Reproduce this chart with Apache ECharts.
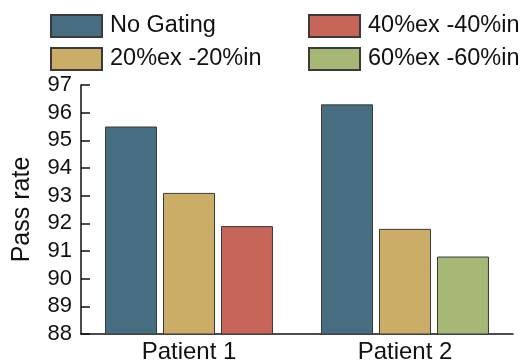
<!DOCTYPE html>
<html>
<head>
<meta charset="utf-8">
<script src="https://cdn.jsdelivr.net/npm/echarts@6/dist/echarts.min.js"></script>
<style>
html,body{margin:0;padding:0;background:#fff;}
#c{width:532px;height:361px;}
</style>
</head>
<body>
<div id="c"></div>
<script>
const categories = ['Patient 1', 'Patient 2'];
const seriesNames = ['No Gating', '20%ex -20%in', '40%ex -40%in', '60%ex -60%in'];
const noGating = [95.5, 96.3];
const gating20 = [93.1, 91.8];
const gating40 = [91.9, '-'];
const gating60 = ['-', 90.8];
const yTicks = [88, 89, 90, 91, 92, 93, 94, 95, 96, 97];

const colors = ['#466d80', '#cbad68', '#c66558', '#a7b775'];
const font = 'Liberation Sans, Arial, sans-serif';
const chart = echarts.init(document.getElementById('c'), null, {renderer: 'canvas'});

const itemStyle = (c) => ({color: c, borderColor: '#3a3a3a', borderWidth: 1});
const legendText = {fontSize: 23.5, fontFamily: font, color: '#111', padding: [0, 0, 0, 3]};

chart.setOption({
  animation: false,
  legend: [
    {data: [seriesNames[0], seriesNames[1]], orient: 'vertical', left: 50, top: 14,
     itemWidth: 51, itemHeight: 22, itemGap: 9, icon: 'rect', textStyle: legendText, padding: 0},
    {data: [seriesNames[2], seriesNames[3]], orient: 'vertical', left: 308, top: 14,
     itemWidth: 51, itemHeight: 22, itemGap: 9, icon: 'rect', textStyle: legendText, padding: 0}
  ],
  grid: {left: 81, right: 19, top: 85, bottom: 27, containLabel: false, outerBoundsMode: 'none'},
  xAxis: {
    type: 'category', data: categories,
    axisLine: {lineStyle: {color: '#111', width: 1.5}},
    axisTick: {inside: true, length: 6, lineStyle: {color: '#111', width: 1.5}},
    axisLabel: {fontSize: 24, fontFamily: font, color: '#111', margin: 6}
  },
  yAxis: {
    type: 'value', min: yTicks[0], max: yTicks[yTicks.length - 1], interval: 1,
    name: 'Pass rate', nameLocation: 'middle', nameGap: 46,
    nameTextStyle: {fontSize: 25, fontFamily: font, color: '#111'},
    splitLine: {show: false},
    axisLine: {show: true, lineStyle: {color: '#111', width: 1.5}},
    axisTick: {show: true, inside: true, length: 9, lineStyle: {color: '#111', width: 1.5}},
    axisLabel: {fontSize: 22, fontFamily: font, color: '#111', margin: 9}
  },
  series: [
    {name: seriesNames[0], type: 'bar', data: noGating, barWidth: 52, barGap: '11.5%', itemStyle: itemStyle(colors[0])},
    {name: seriesNames[1], type: 'bar', data: gating20, barWidth: 52, barGap: '11.5%', itemStyle: itemStyle(colors[1])},
    {name: seriesNames[2], type: 'bar', data: gating40, stack: 'g', barWidth: 52, barGap: '11.5%', itemStyle: itemStyle(colors[2])},
    {name: seriesNames[3], type: 'bar', data: gating60, stack: 'g', barWidth: 52, barGap: '11.5%', itemStyle: itemStyle(colors[3])}
  ]
});
</script>
</body>
</html>
